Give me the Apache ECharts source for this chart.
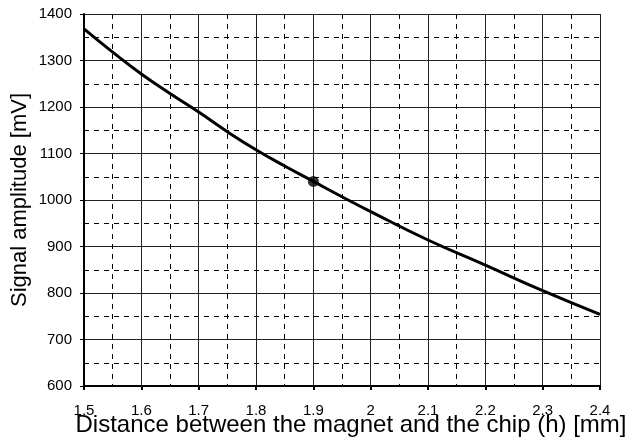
<!DOCTYPE html>
<html><head><meta charset="utf-8">
<script src="https://cdn.jsdelivr.net/npm/echarts@6/dist/echarts.min.js"></script>
<style>html,body{margin:0;padding:0;background:#fff}#c{width:628px;height:443px}</style>
</head><body><div id="c"></div>
<script>
const distances = [1.5, 1.55, 1.6, 1.65, 1.7, 1.75, 1.8, 1.85, 1.9, 1.95, 2.0, 2.1, 2.2, 2.3, 2.4];
const amplitudes = [1368, 1318, 1271, 1229, 1189, 1147, 1108, 1073, 1040, 1007, 975, 914, 860, 805, 754];
const markerPoint = [1.9, 1040];
const xName = 'Distance between the magnet and the chip (h) [mm]';
const yName = 'Signal amplitude [mV]';

const font = 'Liberation Sans, Arial, sans-serif';
const chart = echarts.init(document.getElementById('c'));
chart.setOption({
  animation: false,
  grid: {left: 84, right: 28, top: 14, bottom: 57, containLabel: false, outerBoundsMode: 'none'},
  xAxis: {
    type: 'value', min: 1.5, max: 2.4, interval: 0.1,
    name: xName, nameLocation: 'middle', nameGap: 27, nameMoveOverlap: false,
    nameTextStyle: {fontFamily: font, fontSize: 24, color: '#000', padding: [0, 0, 0, 18]},
    axisLine: {show: true, onZero: false, lineStyle: {color: '#000', width: 2}},
    axisTick: {show: true, inside: false, length: 4, lineStyle: {color: '#000', width: 2}},
    axisLabel: {fontFamily: font, fontSize: 15, color: '#000', margin: 17,
      formatter: v => String(+v.toFixed(1))},
    splitLine: {show: true, lineStyle: {color: '#222', width: 1}},
    minorTick: {show: false, splitNumber: 2},
    minorSplitLine: {show: true, lineStyle: {color: '#000', width: 1, type: [5, 5]}}
  },
  yAxis: {
    type: 'value', min: 600, max: 1400, interval: 100,
    name: yName, nameLocation: 'middle', nameGap: 53, nameMoveOverlap: false,
    nameTextStyle: {fontFamily: font, fontSize: 22, color: '#000'},
    axisLine: {show: true, lineStyle: {color: '#000', width: 2}},
    axisTick: {show: true, length: 4, lineStyle: {color: '#000', width: 1}},
    axisLabel: {fontFamily: font, fontSize: 15, color: '#000', margin: 12,
      formatter: v => String(v)},
    splitLine: {show: true, lineStyle: {color: '#222', width: 1}},
    minorTick: {show: false, splitNumber: 2},
    minorSplitLine: {show: true, lineStyle: {color: '#000', width: 1, type: [5, 5]}}
  },
  series: [
    {type: 'line', data: distances.map((d, i) => [d, amplitudes[i]]), smooth: true,
     showSymbol: false, lineStyle: {color: '#000', width: 3}, clip: false, z: 3},
    {type: 'scatter', data: [markerPoint], symbol: 'circle', symbolSize: 11,
     itemStyle: {color: '#000'}, z: 4}
  ]
});
</script></body></html>
